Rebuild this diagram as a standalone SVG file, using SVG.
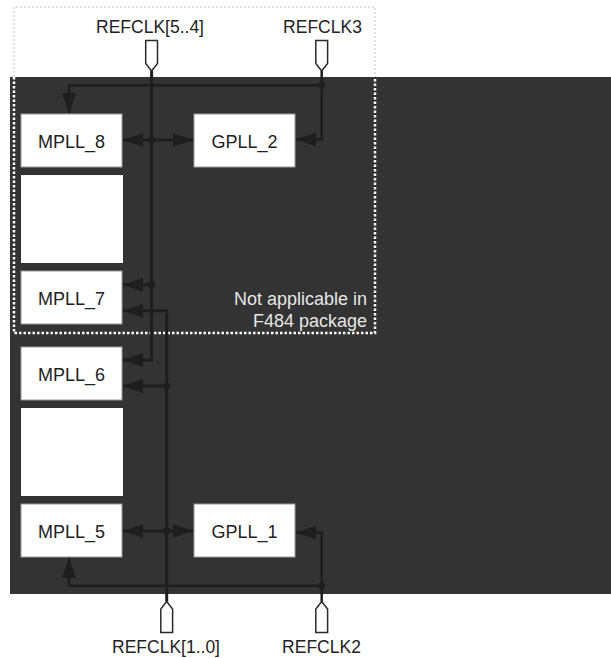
<svg xmlns="http://www.w3.org/2000/svg" width="611" height="658" viewBox="0 0 611 658">
  <style>
    .lbl { font-family: "Liberation Sans", Arial, sans-serif; font-size: 17.5px; fill: #222222; }
    .pll { font-family: "Liberation Sans", Arial, sans-serif; font-size: 18px; fill: #222222; text-anchor: middle; }
    .note { font-family: "Liberation Sans", Arial, sans-serif; font-size: 18px; fill: #e6e6e6; text-anchor: end; }
    .box { fill: #ffffff; stroke: #9a9a9a; stroke-width: 1; }
    .blank { fill: #ffffff; }
    .pin { fill: #ffffff; stroke: #2a2a2a; stroke-width: 1.5; stroke-linejoin: miter; }
    .wire { fill: none; stroke: #1e1e1e; stroke-width: 2.5; }
    .bus { fill: none; stroke: #1e1e1e; stroke-width: 3; }
    .dot { fill: #1e1e1e; }
    .arr { marker-end: url(#ah); }
    .arr2 { marker-start: url(#ah); marker-end: url(#ah); }
  </style>
  <defs>
    <marker id="ah" viewBox="0 0 20 14" refX="20" refY="7" markerWidth="20" markerHeight="14" markerUnits="userSpaceOnUse" orient="auto-start-reverse">
      <path d="M0,0 L20,7 L0,14 z" fill="#1e1e1e"/>
    </marker>
  </defs>

  <!-- device core area -->
  <rect x="10" y="77" width="601" height="517" fill="#333333"/>

  <!-- package limit outline: faint above the core, bright inside it -->
  <path d="M14,77 V7 H375 V77" fill="none" stroke="#d9d9d9" stroke-width="1.5" stroke-dasharray="2 2"/>
  <path d="M14,77 V333 H375 V77" fill="none" stroke="#ffffff" stroke-width="2.5" stroke-dasharray="2.5 2"/>
  <text class="note" x="367" y="305">Not applicable in</text>
  <text class="note" x="367" y="327">F484 package</text>

  <!-- PLL blocks -->
  <g id="mpll8"><rect class="box" x="21" y="114" width="101" height="53"/><text class="pll" x="71.5" y="147.5">MPLL_8</text></g>
  <g id="gpll2"><rect class="box" x="194" y="114" width="101" height="53"/><text class="pll" x="244.5" y="147.5">GPLL_2</text></g>
  <g id="blank-upper"><rect class="blank" x="21" y="175" width="102" height="88"/></g>
  <g id="mpll7"><rect class="box" x="21" y="271" width="101" height="53"/><text class="pll" x="71.5" y="305">MPLL_7</text></g>
  <g id="mpll6"><rect class="box" x="21" y="347" width="101" height="53"/><text class="pll" x="71.5" y="380.5">MPLL_6</text></g>
  <g id="blank-lower"><rect class="blank" x="21" y="408" width="102" height="88"/></g>
  <g id="mpll5"><rect class="box" x="21" y="504" width="101" height="53"/><text class="pll" x="71.5" y="537.5">MPLL_5</text></g>
  <g id="gpll1"><rect class="box" x="194" y="504" width="101" height="53"/><text class="pll" x="244.5" y="537.5">GPLL_1</text></g>

  <!-- clock input pins -->
  <g id="refclk54"><path class="pin" d="M145.7,40.5 H157.5 V63.5 L151.6,71 L145.7,63.5 Z"/><text class="lbl" x="150" y="33" text-anchor="middle">REFCLK[5..4]</text></g>
  <g id="refclk3"><path class="pin" d="M315.8,40.5 H327.6 V63.5 L321.7,71 L315.8,63.5 Z"/><text class="lbl" x="322.5" y="33" text-anchor="middle">REFCLK3</text></g>
  <g id="refclk10"><path class="pin" d="M160.8,632.5 H172.6 V609 L166.7,601.5 L160.8,609 Z"/><text class="lbl" x="166" y="653" text-anchor="middle">REFCLK[1..0]</text></g>
  <g id="refclk2"><path class="pin" d="M315.8,632.5 H327.6 V609 L321.7,601.5 L315.8,609 Z"/><text class="lbl" x="321.5" y="653" text-anchor="middle">REFCLK2</text></g>

  <!-- clock routing -->
  <g id="connectors">
    <!-- REFCLK[5..4] trunk -->
    <path class="bus" d="M151.6,71 V360 H123" marker-end="url(#ah)"/>
    <path class="bus arr2" d="M123,140 H193"/>
    <path class="bus arr" d="M151.6,284.7 H123"/>
    <circle class="dot" cx="151.6" cy="140" r="3.5"/>
    <circle class="dot" cx="151.6" cy="284.7" r="3.5"/>

    <!-- REFCLK[1..0] trunk -->
    <path class="bus" d="M166.7,601.5 V310.7 H123" marker-end="url(#ah)"/>
    <path class="bus arr" d="M166.7,386 H123"/>
    <path class="bus arr2" d="M123,531 H193"/>
    <circle class="dot" cx="166.7" cy="386" r="3.5"/>
    <circle class="dot" cx="166.7" cy="531" r="3.5"/>

    <!-- REFCLK3 -->
    <path class="wire" d="M321.7,71 V139.5 H296" marker-end="url(#ah)"/>
    <path class="wire" d="M321.7,85.3 H69 V113" marker-end="url(#ah)"/>
    <circle class="dot" cx="321.7" cy="85.3" r="3.5"/>

    <!-- REFCLK2 -->
    <path class="wire" d="M321.7,601.5 V532.5 H296" marker-end="url(#ah)"/>
    <path class="wire" d="M321.7,585.7 H69 V558" marker-end="url(#ah)"/>
    <circle class="dot" cx="321.7" cy="585.7" r="3.5"/>
  </g>
</svg>
